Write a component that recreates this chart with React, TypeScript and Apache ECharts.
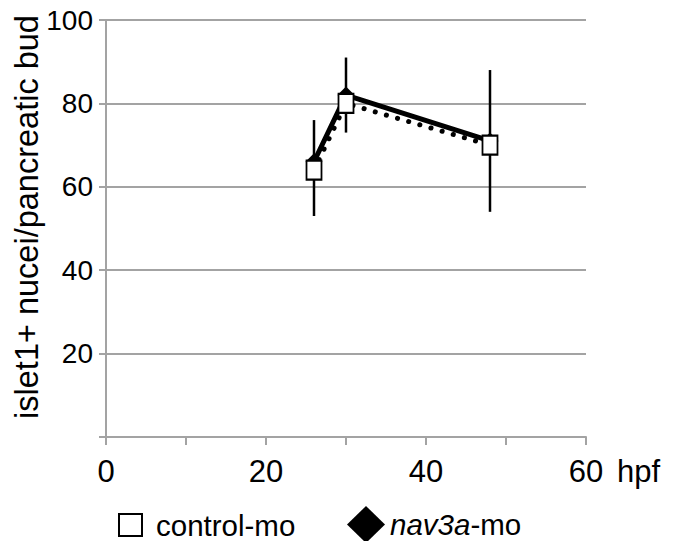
import React, { useEffect, useRef } from "react";
import * as echarts from "echarts";

const hpf = [26, 30, 48];
const controlMo = [64, 80, 70];
const nav3aMo = [66, 82, 71];
const errLow = [53, 73, 54];
const errHigh = [76, 91, 88];
const xTicks = [0, 20, 40, 60];
const yTicks = [20, 40, 60, 80, 100];

const FONT = "Liberation Sans, Arial, sans-serif";
const GRID_COLOR = "#a3a3a3";

export default function App() {
  const ref = useRef<HTMLDivElement>(null);
  useEffect(() => {
    if (!ref.current) return;
    const chart = echarts.init(ref.current, undefined, { renderer: "svg" });
    const option: any = {
      animation: false,
      backgroundColor: "#ffffff",
      grid: { left: 106, right: 92, top: 20, bottom: 104, containLabel: false },
      xAxis: {
        type: "value",
        min: 0,
        max: 60,
        interval: 10,
        name: "hpf",
        nameLocation: "end",
        nameGap: 31,
        nameTextStyle: {
          color: "#000",
          fontSize: 31,
          fontFamily: FONT,
          align: "left",
          verticalAlign: "top",
          padding: [19, 0, 0, 0],
        },
        axisLine: { show: true, lineStyle: { color: GRID_COLOR, width: 2 } },
        axisTick: { show: true, length: 8, lineStyle: { color: GRID_COLOR, width: 2 } },
        splitLine: { show: false },
        axisLabel: {
          color: "#000",
          fontSize: 31,
          fontFamily: FONT,
          margin: 19,
          formatter: (v: number) => (xTicks.includes(v) ? String(v) : ""),
        },
      },
      yAxis: {
        type: "value",
        min: 0,
        max: 100,
        interval: 20,
        axisLine: { show: true, lineStyle: { color: GRID_COLOR, width: 2 } },
        axisTick: { show: true, length: 7, lineStyle: { color: GRID_COLOR, width: 2 } },
        splitLine: { show: true, lineStyle: { color: GRID_COLOR, width: 2 } },
        axisLabel: {
          color: "#000",
          fontSize: 28,
          fontFamily: FONT,
          margin: 13,
          formatter: (v: number) => (yTicks.includes(v) ? String(v) : ""),
        },
      },
      graphic: [
        {
          type: "text",
          x: 27,
          y: 217,
          rotation: Math.PI / 2,
          style: {
            text: "islet1+ nucei/pancreatic bud",
            fill: "#000",
            font: `32.5px ${FONT}`,
            textAlign: "center",
            textVerticalAlign: "middle",
          },
        },
      ],
      legend: [
        {
          data: [{ name: "control-mo", icon: "rect" }],
          left: 118,
          top: 510,
          padding: 0,
          itemWidth: 23,
          itemHeight: 22,
          textStyle: {
            color: "#000",
            fontSize: 29.5,
            lineHeight: 26,
            fontFamily: FONT,
            padding: [0, 0, 0, 9],
          },
        },
        {
          data: [{ name: "nav3a-mo", icon: "diamond" }],
          left: 347,
          top: 506,
          padding: 0,
          itemWidth: 38,
          itemHeight: 37,
          formatter: () => "{it|nav3a}{n|-mo}",
          textStyle: {
            color: "#000",
            fontSize: 29.5,
            lineHeight: 26,
            fontFamily: FONT,
            rich: {
              it: { fontStyle: "italic", fontSize: 29.5, lineHeight: 26, fontFamily: FONT, color: "#000" },
              n: { fontSize: 29.5, lineHeight: 26, fontFamily: FONT, color: "#000" },
            },
          },
        },
      ],
      series: [
        {
          name: "err",
          type: "custom",
          data: hpf.map((x, i) => [x, errLow[i], errHigh[i]]),
          encode: { x: 0, y: [1, 2] },
          renderItem: (params: any, api: any) => {
            const x = api.value(0);
            const p1 = api.coord([x, api.value(1)]);
            const p2 = api.coord([x, api.value(2)]);
            return {
              type: "line",
              shape: { x1: p1[0], y1: p1[1], x2: p2[0], y2: p2[1] },
              style: { stroke: "#000", lineWidth: 2.5 },
            };
          },
          z: 1,
          silent: true,
        },
        {
          name: "nav3a-mo",
          type: "line",
          data: hpf.map((x, i) => [x, nav3aMo[i]]),
          symbol: "diamond",
          symbolSize: 17,
          itemStyle: { color: "#000" },
          lineStyle: { color: "#000", width: 5 },
          z: 2,
        },
        {
          name: "control-mo",
          type: "line",
          data: hpf.map((x, i) => [x, controlMo[i]]),
          symbol: "rect",
          symbolSize: [15, 19],
          itemStyle: { color: "#fff", borderColor: "#000", borderWidth: 2 },
          lineStyle: { color: "#000", width: 5, type: [0.1, 11.5], cap: "round" },
          z: 3,
        },
      ],
    };
    chart.setOption(option);
    return () => chart.dispose();
  }, []);
  return (
    <div
      ref={ref}
      style={{ position: "fixed", left: 0, top: 0, width: 678, height: 541, background: "#fff" }}
    />
  );
}
